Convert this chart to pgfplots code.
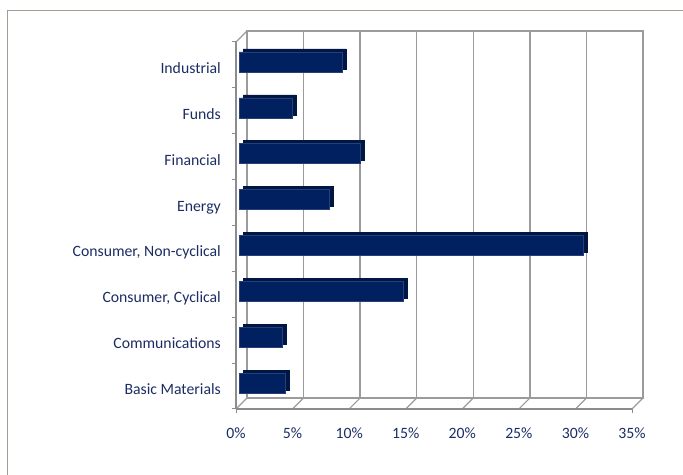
\documentclass[border=0pt]{standalone}
\usepackage{pgfplots}
\pgfplotsset{compat=1.18}
\usepackage{fontspec}
\setmainfont{Carlito}
\definecolor{barface}{RGB}{0,32,96}
\definecolor{barside}{RGB}{0,22,68}
\definecolor{baredge}{RGB}{40,62,120}
\definecolor{labelcol}{RGB}{28,45,100}
\definecolor{gridcol}{RGB}{155,155,155}
\definecolor{axcol}{RGB}{140,140,140}
\definecolor{framecol}{RGB}{165,155,145}

\pgfplotstableread{
y  v
0  4.06
1  3.80
2  14.5
3  30.4
4  7.95
5  10.7
6  4.70
7  9.10
}\sectors

\begin{document}
\begin{tikzpicture}
\useasboundingbox (0,0) rectangle (683bp,475bp);
\draw[framecol, line width=1bp] (7bp,0) -- (7bp,464bp) -- (690bp,464bp);

% back wall with gridlines
\begin{axis}[
  at={(247bp,77bp)}, anchor=south west,
  scale only axis, width=396bp, height=367bp,
  xmin=0, xmax=35, ymin=-0.5, ymax=7.5,
  xtick={0,5,...,35}, xticklabels={},
  ytick=\empty,
  major tick length=0pt,
  xmajorgrids,
  grid style={gridcol, line width=1.3bp},
  axis line style={gridcol, line width=1.3bp},
]
\end{axis}

% floor diagonals and top-left diagonal
\foreach \i in {0,...,7} {
  \draw[gridcol, line width=1.2bp] (236bp+\i*56.5714bp,66bp) -- ++(11bp,11bp);
}
\draw[gridcol, line width=1.2bp] (236bp,433bp) -- ++(11bp,11bp);

% front axis with bars
\begin{axis}[
  at={(236bp,66bp)}, anchor=south west,
  scale only axis, width=396bp, height=367bp,
  xmin=0, xmax=35, ymin=-0.5, ymax=7.5,
  axis lines*=left,
  axis line style={axcol, line width=1.2bp},
  xtick={0,5,...,35},
  xticklabels={0\%,5\%,10\%,15\%,20\%,25\%,30\%,35\%},
  extra x ticks={0,35}, extra x tick labels={},
  extra x tick style={major tick length=4bp, tick style={axcol, line width=1bp}},
  ytick={0,...,7},
  yticklabels={Basic Materials,Communications,{Consumer, Cyclical},{Consumer, Non-cyclical},Energy,Financial,Funds,Industrial},
  minor ytick={-0.5,0.5,...,7.5},
  minor tick length=4bp,
  major tick length=0pt,
  tick align=outside,
  tick style={axcol, line width=1bp},
  xticklabel style={font=\fontsize{15.8}{19}\selectfont, text=labelcol, anchor=center, yshift=-24bp},
  yticklabel style={font=\fontsize{15.8}{19}\selectfont, text=labelcol, anchor=base east, inner sep=0pt, xshift=-15bp, yshift=-8.5bp},
  xbar, bar width=20bp, bar shift=0pt,
  clip=false,
]
\addplot[fill=barside, draw=barside, line width=0.4bp, xshift=7bp, yshift=6bp, bar shift=0pt] table[x=v, y=y] {\sectors};
\addplot[fill=barface, draw=baredge, line width=0.4bp, xshift=3bp, yshift=3bp, bar shift=0pt] table[x=v, y=y] {\sectors};
\end{axis}
\end{tikzpicture}
\end{document}
